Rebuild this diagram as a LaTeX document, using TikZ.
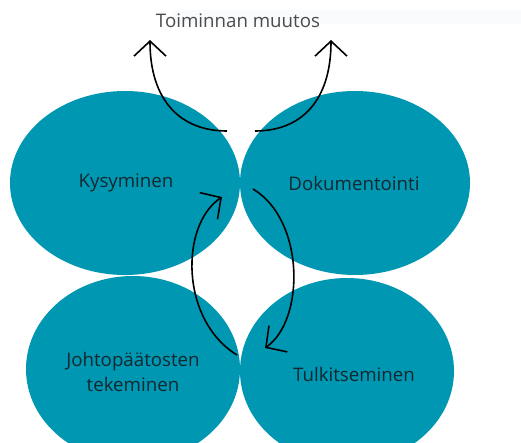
\documentclass[tikz,border=0pt]{standalone}
\usepackage{fontspec}
\setmainfont{Open Sans}
\usetikzlibrary{shapes.geometric,arrows.meta}
\definecolor{teal1}{RGB}{0,151,178}
\definecolor{txt}{RGB}{20,40,48}
\definecolor{faint}{RGB}{250,251,253}
\tikzset{
  blob/.style={ellipse, fill=teal1, inner sep=0pt},
  lbl/.style={text=txt, font=\fontsize{18.7}{25}\selectfont, align=center},
  arr/.style={line width=1.6pt, black, -{Straight Barb[length=15pt,width=32pt,line width=1.6pt]}},
}
\begin{document}
\begin{tikzpicture}[x=1pt,y=-1pt]
\useasboundingbox (0,0) rectangle (521,442);
\fill[white] (0,0) rectangle (521,442);
\clip (0,0) rectangle (521,442);
\fill[faint] (172,10) rectangle (521,24);
\node[blob, minimum width=230pt, minimum height=184pt] (k) at (125,183) {};
\node[blob, minimum width=230pt, minimum height=184pt] (d) at (355,183) {};
\node[blob, minimum width=214pt, minimum height=186pt] (j) at (133,369) {};
\node[blob, minimum width=214pt, minimum height=186pt] (t) at (347,371) {};
\node[lbl] at (126,183) {Kysyminen};
\node[lbl] at (354,183) {Dokumentointi};
\node[lbl] at (133,372) {Johtopäätosten\\tekeminen};
\node[lbl] at (354,374) {Tulkitseminen};
\node[lbl, text=black!70] (title) at (238,21) {Toiminnan muutos};
\coordinate (a1s) at (227,131);
\coordinate (a1e) at (150,40);
\coordinate (a2s) at (255,131);
\coordinate (a2e) at (331,40);
\coordinate (a3s) at (237,355);
\coordinate (a3e) at (222,197);
\coordinate (a4s) at (253,189);
\coordinate (a4e) at (265,348);
\draw[arr] (a1s) .. controls (180,131) and (150,100) .. (a1e);
\draw[arr] (a2s) .. controls (302,131) and (331,100) .. (a2e);
\draw[arr] (a3s) .. controls (180,320) and (180,225) .. (a3e);
\draw[arr] (a4s) .. controls (305,220) and (305,320) .. (a4e);
\end{tikzpicture}
\end{document}
